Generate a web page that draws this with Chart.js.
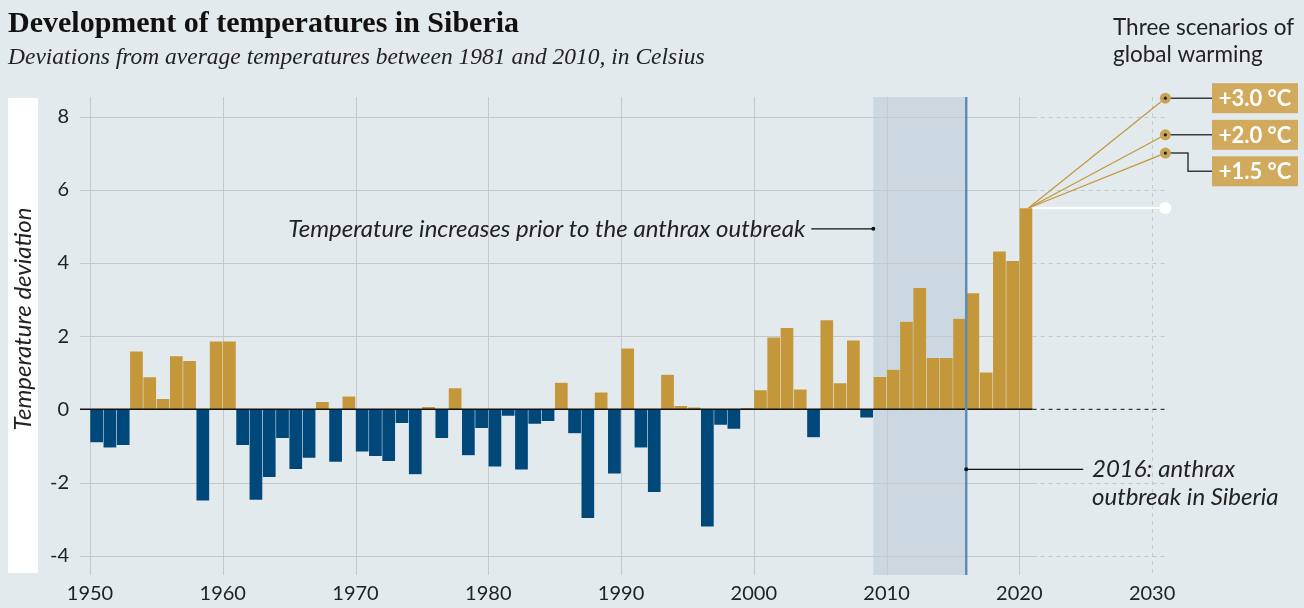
<!DOCTYPE html>
<html><head><meta charset="utf-8">
<script src="https://cdn.jsdelivr.net/npm/chart.js@4.4.1/dist/chart.umd.min.js"></script>
<style>
html,body{margin:0;padding:0;background:#e2eaed;}
canvas{display:block;}
</style></head><body>
<canvas id="c" width="1304" height="608"></canvas>
<script>
// ---------- data ----------
const years = [1950,1951,1952,1953,1954,1955,1956,1957,1958,1959,
  1960,1961,1962,1963,1964,1965,1966,1967,1968,1969,
  1970,1971,1972,1973,1974,1975,1976,1977,1978,1979,
  1980,1981,1982,1983,1984,1985,1986,1987,1988,1989,
  1990,1991,1992,1993,1994,1995,1996,1997,1998,1999,
  2000,2001,2002,2003,2004,2005,2006,2007,2008,2009,
  2010,2011,2012,2013,2014,2015,2016,2017,2018,2019,2020];
const anomalies = [-0.91,-1.05,-0.98,1.59,0.88,0.29,1.46,1.33,-2.50,1.86,
  1.86,-0.98,-2.48,-1.86,-0.79,-1.64,-1.33,0.21,-1.44,0.36,
  -1.16,-1.28,-1.42,-0.38,-1.78,0.07,-0.79,0.58,-1.26,-0.52,
  -1.57,-0.18,-1.65,-0.40,-0.33,0.73,-0.66,-2.98,0.47,-1.76,
  1.67,-1.05,-2.27,0.95,0.10,0.06,-3.21,-0.43,-0.54,0.04,
  0.53,1.97,2.23,0.55,-0.77,2.44,0.72,1.89,-0.23,0.89,
  1.09,2.40,3.32,1.41,1.41,2.48,3.18,1.01,4.32,4.06,5.50];
const xTickValues = [1950,1960,1970,1980,1990,2000,2010,2020,2030];
const yTickValues = [-4,-2,0,2,4,6,8];
const scenarioSteps = [3.0, 2.0, 1.5];
const scenarioLabels = ['+3.0 °C','+2.0 °C','+1.5 °C'];
const scenarioYear = 2031;
const dataEndYear = 2021;
const shadeFromYear = 2009;
const outbreakYear = 2016;
const increaseNote = 'Temperature increases prior to the anthrax outbreak';
const increaseNoteValue = 4.93;
const outbreakNote = ['2016: anthrax', 'outbreak in Siberia'];
const outbreakNoteValue = -1.64;
const titleText = 'Development of temperatures in Siberia';
const subtitleText = 'Deviations from average temperatures between 1981 and 2010, in Celsius';
const yTitle = 'Temperature deviation';
const scenarioTitle = ['Three scenarios of', 'global warming'];

// ---------- styles ----------
const BG = '#e2eaed', GOLD = '#c3973a', BLUE = '#00477a', GRID = '#c3c9cc';
const SANS = 'Lato, "Open Sans", sans-serif';

const barData = years.map((y, i) => ({x: y + 0.5, y: anomalies[i]}));
const baseValue = anomalies[anomalies.length - 1];

const decor = {
  id: 'decor',
  beforeDraw(chart) {
    const c = chart.ctx;
    c.save();
    c.fillStyle = BG;
    c.fillRect(0, 0, chart.width, chart.height);
    c.restore();
  },
  beforeDatasetsDraw(chart) {
    const c = chart.ctx, a = chart.chartArea;
    const xs = chart.scales.x, ys = chart.scales.y;
    const xEnd = xs.getPixelForValue(dataEndYear), xScen = xs.getPixelForValue(scenarioYear);
    c.save();
    c.fillStyle = '#ffffff';
    c.fillRect(8, a.top + 1, 30, a.bottom - a.top - 3);
    const s0 = xs.getPixelForValue(shadeFromYear), s1 = xs.getPixelForValue(outbreakYear);
    c.fillStyle = '#cbd8e2';
    c.fillRect(s0, a.top, s1 - s0, a.bottom - a.top);
    c.strokeStyle = GRID; c.lineWidth = 1;
    xTickValues.forEach(v => {
      const x = Math.round(xs.getPixelForValue(v)) + 0.5;
      c.setLineDash(v > dataEndYear ? [4, 4] : []);
      c.beginPath(); c.moveTo(x, a.top); c.lineTo(x, a.bottom); c.stroke();
    });
    yTickValues.forEach(v => {
      if (v === 0) return;
      const y = Math.round(ys.getPixelForValue(v)) + 0.5;
      c.setLineDash([]);
      c.beginPath(); c.moveTo(a.left, y); c.lineTo(xEnd, y); c.stroke();
      c.setLineDash([4, 4]);
      c.beginPath(); c.moveTo(xEnd, y); c.lineTo(xScen + 2, y); c.stroke();
    });
    c.restore();
  },
  afterDatasetsDraw(chart) {
    const c = chart.ctx, a = chart.chartArea;
    const xs = chart.scales.x, ys = chart.scales.y;
    const xEnd = xs.getPixelForValue(dataEndYear), xScen = xs.getPixelForValue(scenarioYear);
    const y0 = ys.getPixelForValue(0);
    c.save();
    c.strokeStyle = '#111'; c.lineWidth = 1.5;
    c.beginPath(); c.moveTo(a.left, y0); c.lineTo(xEnd, y0); c.stroke();
    c.lineWidth = 1; c.setLineDash([4, 4]);
    c.beginPath(); c.moveTo(xEnd, y0); c.lineTo(xScen + 2, y0); c.stroke();
    c.setLineDash([]);
    const xo = xs.getPixelForValue(outbreakYear);
    c.strokeStyle = '#5f8cb4'; c.lineWidth = 2.5;
    c.beginPath(); c.moveTo(xo, a.top); c.lineTo(xo, a.bottom); c.stroke();

    const yBase = ys.getPixelForValue(baseValue);
    c.strokeStyle = '#ffffff'; c.lineWidth = 2;
    c.beginPath(); c.moveTo(xEnd, yBase); c.lineTo(xScen, yBase); c.stroke();
    c.fillStyle = '#ffffff';
    c.beginPath(); c.arc(xScen, yBase, 6, 0, Math.PI * 2); c.fill();
    c.strokeStyle = GOLD; c.lineWidth = 1.2;
    scenarioSteps.forEach(s => {
      c.beginPath(); c.moveTo(xEnd - 4, yBase); c.lineTo(xScen, ys.getPixelForValue(baseValue + s)); c.stroke();
    });
    const boxL = 1212, boxW = 86, boxH = 30, gap = 36.5;
    let prev = -1e9;
    scenarioSteps.forEach((s, i) => {
      const yd = ys.getPixelForValue(baseValue + s);
      const yc = Math.max(yd, prev + gap);
      prev = yc;
      c.strokeStyle = '#3a3a3a'; c.lineWidth = 1.5;
      c.beginPath();
      if (Math.abs(yc - yd) < 1) { c.moveTo(xScen, yd); c.lineTo(boxL, yd); }
      else { c.moveTo(xScen, yd); c.lineTo(1188, yd); c.lineTo(1188, yc); c.lineTo(boxL, yc); }
      c.stroke();
      c.fillStyle = '#c9a255';
      c.beginPath(); c.arc(xScen, yd, 5.5, 0, Math.PI * 2); c.fill();
      c.fillStyle = '#222';
      c.beginPath(); c.arc(xScen, yd, 1.6, 0, Math.PI * 2); c.fill();
      c.fillStyle = '#d1aa5e';
      c.fillRect(boxL, yc - boxH / 2, boxW, boxH);
      c.fillStyle = '#ffffff';
      c.font = 'bold 22px ' + SANS;
      c.textAlign = 'center'; c.textBaseline = 'middle';
      c.fillText(scenarioLabels[i], boxL + boxW / 2, yc + 1);
    });

    const xi = xs.getPixelForValue(shadeFromYear), yi = ys.getPixelForValue(increaseNoteValue);
    c.strokeStyle = '#111'; c.lineWidth = 1.2;
    c.beginPath(); c.moveTo(xi - 62, yi); c.lineTo(xi, yi); c.stroke();
    c.fillStyle = '#111';
    c.beginPath(); c.arc(xi, yi, 2, 0, Math.PI * 2); c.fill();
    c.font = 'italic 24px ' + SANS; c.fillStyle = '#222';
    c.textAlign = 'right'; c.textBaseline = 'middle';
    c.fillText(increaseNote, xi - 68, yi);
    const yn = ys.getPixelForValue(outbreakNoteValue);
    c.beginPath(); c.moveTo(xo, yn); c.lineTo(xo + 117, yn); c.stroke();
    c.fillStyle = '#111';
    c.beginPath(); c.arc(xo, yn, 2, 0, Math.PI * 2); c.fill();
    c.fillStyle = '#222'; c.textAlign = 'left'; c.textBaseline = 'alphabetic';
    c.fillText(outbreakNote[0], 1092, yn + 8);
    c.fillText(outbreakNote[1], 1092, yn + 36);
    c.restore();
  },
  afterDraw(chart) {
    const c = chart.ctx;
    c.save();
    c.fillStyle = '#111';
    c.textAlign = 'left'; c.textBaseline = 'alphabetic';
    c.font = 'bold 30px "Liberation Serif", serif';
    c.fillText(titleText, 8, 32);
    c.fillStyle = '#222';
    c.font = 'italic 23.5px "Liberation Serif", serif';
    c.fillText(subtitleText, 8, 64);
    c.font = '22.5px ' + SANS;
    c.fillText(scenarioTitle[0], 1113, 35);
    c.fillText(scenarioTitle[1], 1113, 62);
    c.translate(23, 319);
    c.rotate(-Math.PI / 2);
    c.font = 'italic 24px ' + SANS;
    c.textAlign = 'center'; c.textBaseline = 'middle';
    c.fillText(yTitle, 0, 0);
    c.restore();
  }
};

new Chart(document.getElementById('c'), {
  type: 'bar',
  data: {
    datasets: [{
      data: barData,
      backgroundColor: ctx => (ctx.raw && ctx.raw.y >= 0) ? GOLD : BLUE,
      borderColor: 'rgba(255,255,255,0.1)',
      borderWidth: 0.6,
      borderSkipped: false,
      barPercentage: 1,
      categoryPercentage: 1
    }]
  },
  options: {
    responsive: false,
    animation: false,
    devicePixelRatio: 1,
    layout: {padding: {left: 0, top: 97, right: 132, bottom: 0}},
    plugins: {legend: {display: false}, tooltip: {enabled: false}},
    scales: {
      x: {
        type: 'linear', min: 1949.247, max: 2031.5, offset: false,
        grid: {display: false, drawTicks: false, offset: false}, border: {display: false},
        afterBuildTicks: s => { s.ticks = xTickValues.map(v => ({value: v})); },
        afterFit: s => { s.height = 33; },
        ticks: {font: {family: SANS, size: 20}, color: '#222', padding: 7,
          maxRotation: 0, autoSkip: false, callback: v => String(v)}
      },
      y: {
        min: -4.527, max: 8.533,
        grid: {display: false, drawTicks: false}, border: {display: false},
        afterBuildTicks: s => { s.ticks = yTickValues.map(v => ({value: v})); },
        afterFit: s => { s.width = 80; },
        ticks: {font: {family: SANS, size: 20}, color: '#222', padding: 11,
          callback: v => String(v)}
      }
    }
  },
  plugins: [decor]
});
</script>
</body></html>
